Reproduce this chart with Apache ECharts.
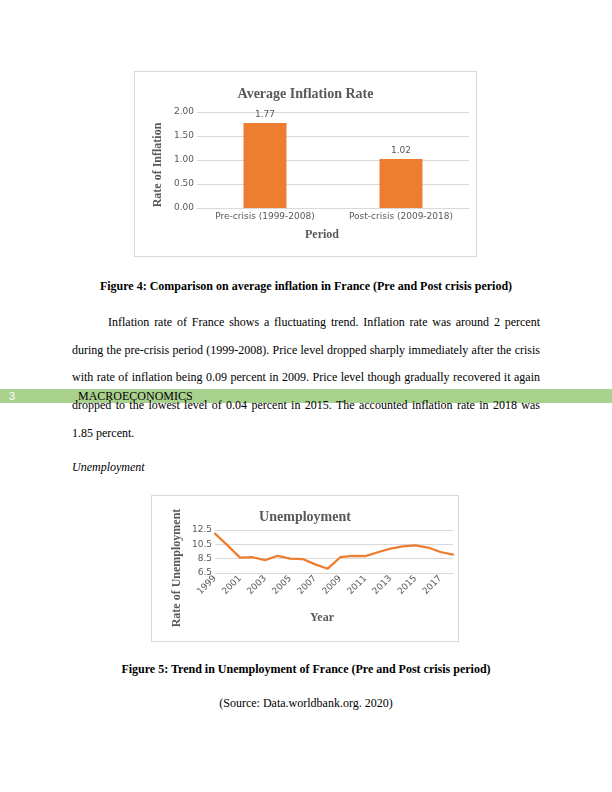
<!DOCTYPE html>
<html>
<head>
<meta charset="utf-8">
<script src="https://cdn.jsdelivr.net/npm/echarts@6/dist/echarts.min.js"></script>
<style>
  html, body { margin:0; padding:0; background:#fff; }
  body { width:612px; height:792px; position:relative; overflow:hidden; font-family:"Liberation Serif","Times New Roman",serif; color:#000; }
  .t { position:absolute; font-size:12px; line-height:14px; white-space:nowrap; }
  .j { position:absolute; font-size:12px; line-height:14px; text-align:justify; text-align-last:justify; white-space:normal; }
  .c { position:absolute; left:0; width:612px; text-align:center; font-size:12px; line-height:14px; }
  .chart { position:absolute; outline:1px solid #d9d9d9; }
  #band { position:absolute; left:0; top:389px; width:612px; height:14px; background:#a9d18e; }
</style>
</head>
<body>
<div id="c1" class="chart" style="left:135px;top:72px;width:341px;height:184px;"></div>
<div class="c" style="top:279px;font-weight:bold;">Figure 4: Comparison on average inflation in France (Pre and Post crisis period)</div>
<div id="band"></div>
<div class="j" style="left:108px;top:315px;width:432px;">Inflation rate of France shows a fluctuating trend. Inflation rate was around 2 percent</div>
<div class="j" style="left:72px;top:343px;width:468px;">during the pre-crisis period (1999-2008). Price level dropped sharply immediately after the crisis</div>
<div class="j" style="left:72px;top:370px;width:468px;">with rate of inflation being 0.09 percent in 2009. Price level though gradually recovered it again</div>
<div class="j" style="left:72px;top:398px;width:468px;">dropped to the lowest level of 0.04 percent in 2015. The accounted inflation rate in 2018 was</div>
<div class="t" style="left:72px;top:426px;">1.85 percent.</div>
<div class="t" style="left:9px;top:389px;color:#fff;font-family:'Liberation Sans',sans-serif;font-size:11px;">3</div>
<div class="t" style="left:78px;top:389px;">MACROECONOMICS</div>
<div class="t" style="left:72px;top:460px;font-style:italic;">Unemployment</div>
<div id="c2" class="chart" style="left:152px;top:496px;width:306px;height:145px;"></div>
<div class="c" style="top:662px;font-weight:bold;">Figure 5: Trend in Unemployment of France (Pre and Post crisis period)</div>
<div class="c" style="top:696px;">(Source: Data.worldbank.org. 2020)</div>
<script>
const periods = ["Pre-crisis (1999-2008)", "Post-crisis (2009-2018)"];
const avgInflation = [1.77, 1.02];
const inflationTicks = [0, 0.5, 1.0, 1.5, 2.0];

const years = ["1999","2000","2001","2002","2003","2004","2005","2006","2007","2008",
               "2009","2010","2011","2012","2013","2014","2015","2016","2017","2018"];
const unemployment = [12.0, 10.35, 8.65, 8.7, 8.3, 8.9, 8.5, 8.45, 7.7, 7.1,
                      8.7, 8.88, 8.85, 9.4, 9.9, 10.2, 10.35, 10.05, 9.43, 9.07];
const unempTicks = [6.5, 8.5, 10.5, 12.5];

const grey = '#595959';
const orange = '#ed7d31';
const gridColor = '#d9d9d9';
const tickFont = { color: grey, fontSize: 9, fontFamily: 'DejaVu Sans' };
const serifBold = { fill: grey, fontSize: 12, fontWeight: 'bold', fontFamily: 'Liberation Serif' };

const c1 = echarts.init(document.getElementById('c1'), null, { renderer: 'canvas' });
c1.setOption({
  animation: false,
  title: { text: 'Average Inflation Rate', left: 'center', top: 10,
    textStyle: { color: grey, fontSize: 14, fontWeight: 'bold', fontFamily: 'Liberation Serif' } },
  grid: { left: 62, right: 7, top: 40, bottom: 48 },
  xAxis: { type: 'category', data: periods,
    axisLine: { lineStyle: { color: gridColor } }, axisTick: { show: false },
    axisLabel: Object.assign({ margin: 4 }, tickFont) },
  yAxis: { type: 'value', min: inflationTicks[0], max: inflationTicks[inflationTicks.length-1], interval: 0.5,
    axisLabel: Object.assign({ margin: 3, formatter: v => v.toFixed(2) }, tickFont),
    splitLine: { lineStyle: { color: gridColor } }, axisLine: { show: false }, axisTick: { show: false } },
  series: [{ type: 'bar', data: avgInflation, barWidth: 43, itemStyle: { color: orange },
    label: { show: true, position: 'top', distance: 4, formatter: p => p.value.toFixed(2), color: grey, fontSize: 9, fontFamily: 'DejaVu Sans' } }],
  graphic: [
    { type: 'text', x: 23, y: 93, rotation: Math.PI / 2,
      style: Object.assign({ text: 'Rate of Inflation', align: 'center', verticalAlign: 'middle' }, serifBold) },
    { type: 'text', x: 187, y: 163,
      style: Object.assign({ text: 'Period', align: 'center', verticalAlign: 'middle' }, serifBold) }
  ]
});

const c2 = echarts.init(document.getElementById('c2'), null, { renderer: 'canvas' });
c2.setOption({
  animation: false,
  title: { text: 'Unemployment', left: 'center', top: 9,
    textStyle: { color: grey, fontSize: 14, fontWeight: 'bold', fontFamily: 'Liberation Serif' } },
  grid: { left: 63, right: 5, top: 34, bottom: 68 },
  xAxis: { type: 'category', data: years, boundaryGap: false,
    axisLine: { lineStyle: { color: gridColor } }, axisTick: { show: false },
    axisLabel: Object.assign({ interval: 1, rotate: 45, margin: 4 }, tickFont) },
  yAxis: { type: 'value', min: unempTicks[0], max: unempTicks[unempTicks.length-1], interval: 2,
    axisLabel: Object.assign({ margin: 3, formatter: v => v.toFixed(1) }, tickFont),
    splitLine: { lineStyle: { color: gridColor } }, axisLine: { show: false }, axisTick: { show: false } },
  series: [{ type: 'line', data: unemployment, showSymbol: false, symbol: 'none',
    lineStyle: { color: orange, width: 2.25, cap: 'round', join: 'round' } }],
  graphic: [
    { type: 'text', x: 25, y: 72, rotation: Math.PI / 2,
      style: Object.assign({ text: 'Rate of Unemployment', align: 'center', verticalAlign: 'middle' }, serifBold) },
    { type: 'text', x: 170, y: 122,
      style: Object.assign({ text: 'Year', align: 'center', verticalAlign: 'middle' }, serifBold) }
  ]
});
</script>
</body>
</html>
